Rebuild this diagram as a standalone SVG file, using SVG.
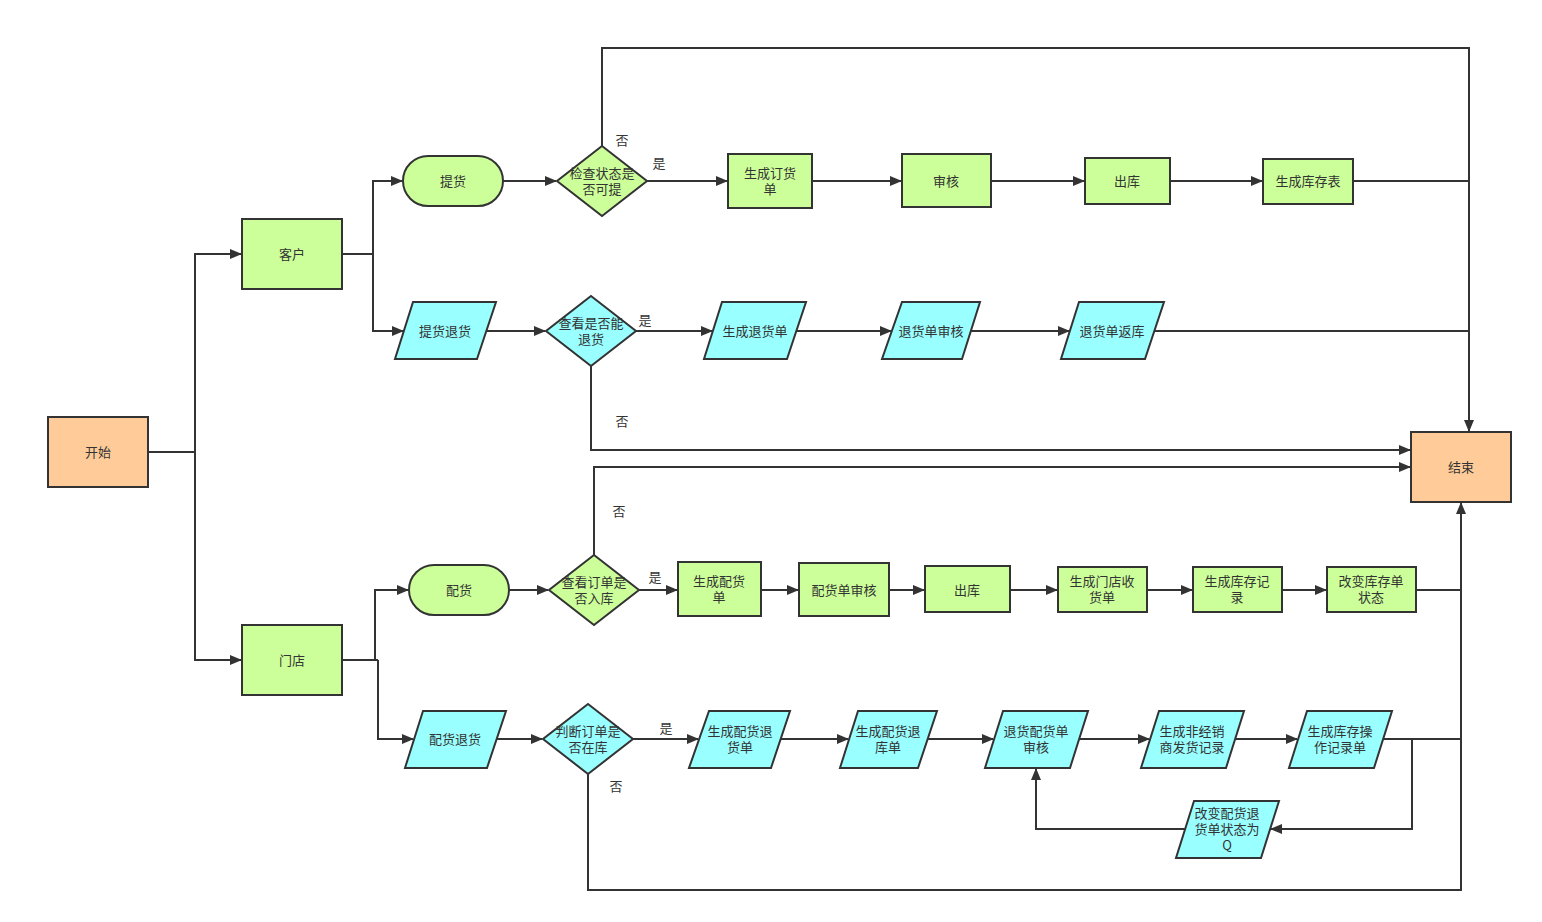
<svg xmlns="http://www.w3.org/2000/svg" width="1542" height="922" viewBox="0 0 1542 922">
<style>
.n{stroke:#333;stroke-width:2}
.g{fill:#CCFF99}
.c{fill:#99FFFF}
.o{fill:#FFCC99}
text{font-family:"Noto Sans CJK SC","Liberation Sans",sans-serif;font-size:13px;fill:#333;text-anchor:middle;dominant-baseline:central;transform:translateY(-1px)}
.e path{fill:none;stroke:#333;stroke-width:2}
.a{marker-end:url(#arr)}
</style>
<defs>
<marker id="arr" markerWidth="12" markerHeight="10" refX="11" refY="5" orient="auto" markerUnits="userSpaceOnUse"><path d="M0,0 L12,5 L0,10 z" fill="#333"/></marker>
</defs>
<rect width="1542" height="922" fill="#fff"/>
<g id="connectors" class="e">
<path d="M148,452 H195"/>
<path class="a" d="M195,452 V254 H241"/>
<path class="a" d="M195,452 V660 H241"/>
<path d="M342,254 H373"/>
<path class="a" d="M373,254 V181 H402"/>
<path class="a" d="M373,254 V331 H403"/>
<path d="M342,660 H378"/>
<path class="a" d="M375,660 V590 H408"/>
<path class="a" d="M378,660 V739 H413"/>
<path class="a" d="M503,181 H556"/>
<path class="a" d="M647,181 H727"/>
<path class="a" d="M812,181 H901"/>
<path class="a" d="M991,181 H1084"/>
<path class="a" d="M1170,181 H1262"/>
<path d="M1353,181 H1469"/>
<path class="a" d="M602,146 V48 H1469 V431"/>
<path class="a" d="M486,331 H545"/>
<path class="a" d="M636,331 H712"/>
<path class="a" d="M796,331 H891"/>
<path class="a" d="M971,331 H1069"/>
<path d="M1154,331 H1469"/>
<path class="a" d="M591,366 V450 H1410"/>
<path class="a" d="M594,555 V467 H1410"/>
<path class="a" d="M509,590 H548"/>
<path class="a" d="M639,590 H677"/>
<path class="a" d="M761,590 H798"/>
<path class="a" d="M889,590 H924"/>
<path class="a" d="M1010,590 H1057"/>
<path class="a" d="M1147,590 H1192"/>
<path class="a" d="M1282,590 H1326"/>
<path d="M1416,590 H1461"/>
<path class="a" d="M497,739 H542"/>
<path class="a" d="M633,739 H698"/>
<path class="a" d="M780,739 H848"/>
<path class="a" d="M928,739 H993"/>
<path class="a" d="M1079,739 H1149"/>
<path class="a" d="M1235,739 H1297"/>
<path d="M1383,739 H1461"/>
<path class="a" d="M1412,739 V829 H1271"/>
<path class="a" d="M1185,829 H1036 V769"/>
<path class="a" d="M588,774 V890 H1461 V503"/>
</g>
<g id="labels">
<text x="622" y="140">否</text>
<text x="659" y="163">是</text>
<text x="645" y="320">是</text>
<text x="622" y="421">否</text>
<text x="619" y="511">否</text>
<text x="655" y="577">是</text>
<text x="666" y="728">是</text>
<text x="616" y="786">否</text>
</g>
<g id="start"><rect class="n o" x="48" y="417" width="100" height="70"/><text x="98" y="452">开始</text></g>
<g id="customer"><rect class="n g" x="242" y="219" width="100" height="70"/><text x="292" y="254">客户</text></g>
<g id="store"><rect class="n g" x="242" y="625" width="100" height="70"/><text x="292" y="660">门店</text></g>
<g id="end"><rect class="n o" x="1411" y="432" width="100" height="70"/><text x="1461" y="467">结束</text></g>
<g id="pickup"><rect class="n g" x="403" y="156" width="100" height="50" rx="25"/><text x="453" y="181">提货</text></g>
<g id="check-pick"><polygon class="n g" points="602,146 647,181 602,216 557,181"/><text x="602" y="173">检查状态是</text><text x="602" y="189">否可提</text></g>
<g id="gen-order"><rect class="n g" x="728" y="154" width="84" height="54"/><text x="770" y="173">生成订货</text><text x="770" y="189">单</text></g>
<g id="audit"><rect class="n g" x="902" y="154" width="89" height="53"/><text x="946" y="181">审核</text></g>
<g id="outstock1"><rect class="n g" x="1085" y="158" width="85" height="46"/><text x="1127" y="181">出库</text></g>
<g id="gen-stock-table"><rect class="n g" x="1263" y="159" width="90" height="45"/><text x="1308" y="181">生成库存表</text></g>
<g id="pickup-return"><polygon class="n c" points="413,302 496,302 477,359 395,359"/><text x="445" y="331">提货退货</text></g>
<g id="check-return"><polygon class="n c" points="591,296 636,331 591,366 546,331"/><text x="591" y="323">查看是否能</text><text x="591" y="339">退货</text></g>
<g id="gen-return"><polygon class="n c" points="722,302 806,302 787,359 704,359"/><text x="755" y="331">生成退货单</text></g>
<g id="return-audit"><polygon class="n c" points="902,302 980,302 962,359 882,359"/><text x="931" y="331">退货单审核</text></g>
<g id="return-stock"><polygon class="n c" points="1079,302 1164,302 1145,359 1061,359"/><text x="1112" y="331">退货单返库</text></g>
<g id="distribute"><rect class="n g" x="409" y="565" width="100" height="50" rx="25"/><text x="459" y="590">配货</text></g>
<g id="check-instock"><polygon class="n g" points="594,555 639,590 594,625 549,590"/><text x="594" y="582">查看订单是</text><text x="594" y="598">否入库</text></g>
<g id="gen-dist"><rect class="n g" x="678" y="562" width="83" height="54"/><text x="719" y="581">生成配货</text><text x="719" y="597">单</text></g>
<g id="dist-audit"><rect class="n g" x="799" y="563" width="90" height="53"/><text x="844" y="590">配货单审核</text></g>
<g id="outstock2"><rect class="n g" x="925" y="566" width="85" height="46"/><text x="967" y="590">出库</text></g>
<g id="gen-receipt"><rect class="n g" x="1058" y="567" width="89" height="45"/><text x="1102" y="581">生成门店收</text><text x="1102" y="597">货单</text></g>
<g id="gen-stock-record"><rect class="n g" x="1193" y="567" width="89" height="45"/><text x="1237" y="581">生成库存记</text><text x="1237" y="597">录</text></g>
<g id="change-stock"><rect class="n g" x="1327" y="567" width="89" height="45"/><text x="1371" y="581">改变库存单</text><text x="1371" y="597">状态</text></g>
<g id="dist-return"><polygon class="n c" points="423,711 506,711 487,768 405,768"/><text x="455" y="739">配货退货</text></g>
<g id="check-order"><polygon class="n c" points="588,704 633,739 588,774 543,739"/><text x="588" y="731">判断订单是</text><text x="588" y="747">否在库</text></g>
<g id="gen-dist-return"><polygon class="n c" points="709,711 790,711 771,768 689,768"/><text x="740" y="731">生成配货退</text><text x="740" y="747">货单</text></g>
<g id="gen-dist-return-stock"><polygon class="n c" points="858,711 937,711 918,768 840,768"/><text x="888" y="731">生成配货退</text><text x="888" y="747">库单</text></g>
<g id="return-dist-audit"><polygon class="n c" points="1003,711 1088,711 1070,768 985,768"/><text x="1036" y="731">退货配货单</text><text x="1036" y="747">审核</text></g>
<g id="gen-nondealer"><polygon class="n c" points="1159,711 1244,711 1226,768 1141,768"/><text x="1192" y="731">生成非经销</text><text x="1192" y="747">商发货记录</text></g>
<g id="gen-stock-op"><polygon class="n c" points="1307,711 1392,711 1374,768 1289,768"/><text x="1340" y="731">生成库存操</text><text x="1340" y="747">作记录单</text></g>
<g id="change-return-state"><polygon class="n c" points="1194,801 1279,801 1261,858 1176,858"/><text x="1227" y="813">改变配货退</text><text x="1227" y="829">货单状态为</text><text x="1227" y="845">Q</text></g>
</svg>
